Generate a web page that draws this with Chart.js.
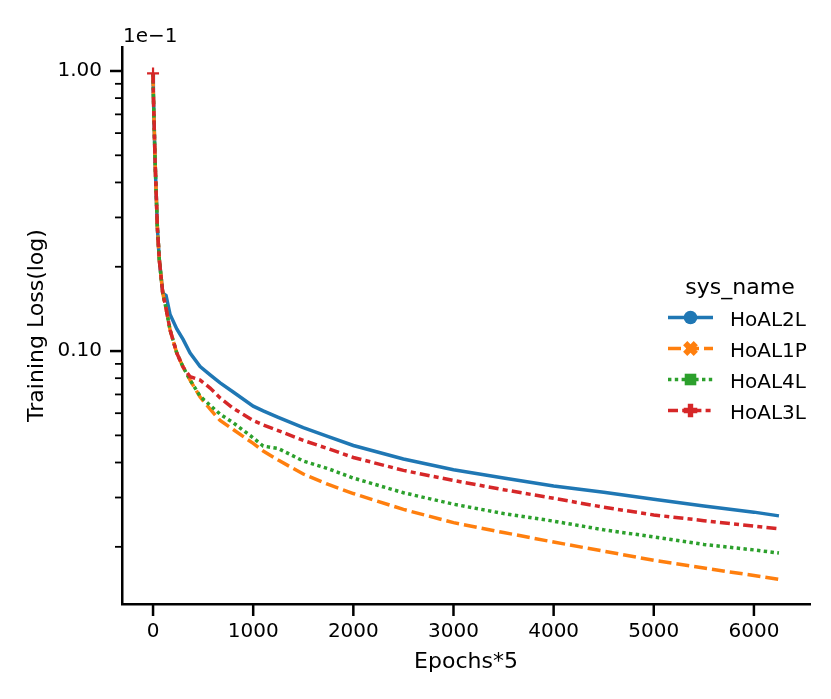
<!DOCTYPE html>
<html>
<head>
<meta charset="UTF-8">
<title>Training Loss(log)</title>
<script src="https://cdn.jsdelivr.net/npm/chart.js@4.4.1/dist/chart.umd.min.js"></script>
<style>
  html, body { margin: 0; padding: 0; background: #fff; }
  #wrap { width: 831px; height: 699px; }
</style>
</head>
<body>
<div id="wrap"><canvas id="lossChart" width="831" height="699"></canvas></div>
<script>
// values (y axis shown in units of 1e-1)
var epochs = [0, 3, 20, 43, 63, 97, 130, 170, 237, 300, 370, 470, 570, 670, 800,
              1000, 1100, 1250, 1500, 1750, 2000, 2500, 3000, 3500, 4000, 4500,
              5000, 5500, 6000, 6250];

var hoal2l = [0.98, 0.835, 0.481, 0.277, 0.211, 0.161, 0.158, 0.135, 0.120, 0.110, 0.0984, 0.0880, 0.0822, 0.0770, 0.0714,
              0.0636, 0.0612, 0.0580, 0.0533, 0.0495, 0.0460, 0.0412, 0.0377, 0.0352, 0.0330, 0.0313,
              0.0296, 0.0280, 0.0266, 0.0258];
var hoal1p = [0.98, 0.835, 0.481, 0.277, 0.211, 0.161, 0.142, 0.119, 0.0984, 0.0877, 0.0788, 0.0685, 0.0620, 0.0565, 0.0525,
              0.0468, 0.0440, 0.0408, 0.0364, 0.0334, 0.0310, 0.0272, 0.0244, 0.0225, 0.0208, 0.0193,
              0.0179, 0.0168, 0.0158, 0.0153];
var hoal4l = [0.98, 0.835, 0.481, 0.277, 0.211, 0.161, 0.142, 0.119, 0.0984, 0.0877, 0.0788, 0.0690, 0.0640, 0.0595, 0.0555,
              0.0490, 0.0458, 0.0449, 0.0405, 0.0380, 0.0352, 0.0312, 0.0284, 0.0263, 0.0247, 0.0230,
              0.0217, 0.0204, 0.0195, 0.0190];
var hoal3l = [0.98, 0.835, 0.481, 0.277, 0.211, 0.161, 0.142, 0.119, 0.0984, 0.0877, 0.0810, 0.0788, 0.0738, 0.0680, 0.0625,
              0.0565, 0.0545, 0.0520, 0.0480, 0.0448, 0.0417, 0.0375, 0.0345, 0.0320, 0.0298, 0.0277,
              0.0260, 0.0248, 0.0237, 0.0232];

var xTicks = [0, 1000, 2000, 3000, 4000, 5000, 6000];
var yMajor = [0.1, 1];
var yMinor = [0.02, 0.03, 0.04, 0.05, 0.06, 0.07, 0.08, 0.09,
              0.2, 0.3, 0.4, 0.5, 0.6, 0.7, 0.8, 0.9];

var FONT = 'DejaVu Sans';
var LW = 3.5;

function pts(ys) {
    return epochs.map(function(x, i) { return { x: x, y: ys[i] }; });
}

function firstOnly(r) {
    return epochs.map(function(x, i) { return i === 0 ? r : 0; });
}

var series = [
    { label: 'HoAL2L', data: hoal2l, color: '#1f77b4', dash: [], marker: 'circle', order: 4 },
    { label: 'HoAL1P', data: hoal1p, color: '#ff7f0e', dash: [13, 5], marker: 'x', order: 3 },
    { label: 'HoAL4L', data: hoal4l, color: '#2ca02c', dash: [3.4, 3.4], marker: 'square', order: 2 },
    { label: 'HoAL3L', data: hoal3l, color: '#d62728', dash: [10, 4.2, 5, 4.2], marker: 'plus', order: 1 }
];

// draws the legend marker shapes (filled, like matplotlib o, X, s, P)
function drawMarker(ctx, kind, x, y, color) {
    ctx.save();
    ctx.fillStyle = color;
    ctx.setLineDash([]);
    ctx.beginPath();
    if (kind === 'circle') {
        ctx.arc(x, y, 6.8, 0, Math.PI * 2);
    } else if (kind === 'square') {
        ctx.rect(x - 5.8, y - 5.8, 11.6, 11.6);
    } else {
        var k = kind === 'x' ? 1.1 : 1;
        var a = 6.8 * k, b = 2.7 * k;
        var shape = [[-b, -a], [b, -a], [b, -b], [a, -b], [a, b], [b, b], [b, a], [-b, a], [-b, b], [-a, b], [-a, -b], [-b, -b]];
        var rot = kind === 'x' ? Math.PI / 4 : 0;
        shape.forEach(function(p, i) {
            var rx = p[0] * Math.cos(rot) - p[1] * Math.sin(rot);
            var ry = p[0] * Math.sin(rot) + p[1] * Math.cos(rot);
            if (i === 0) ctx.moveTo(x + rx, y + ry); else ctx.lineTo(x + rx, y + ry);
        });
        ctx.closePath();
    }
    ctx.fill();
    ctx.restore();
}

var decorPlugin = {
    id: 'decor',
    afterDraw: function(chart) {
        var ctx = chart.ctx;
        var xs = chart.scales.x, ys = chart.scales.y;
        var area = chart.chartArea;
        ctx.save();
        ctx.strokeStyle = '#000';
        ctx.setLineDash([]);

        // y ticks: long for decades, short for the rest
        ctx.lineWidth = 2.5;
        yMajor.forEach(function(v) {
            var p = ys.getPixelForValue(v);
            ctx.beginPath(); ctx.moveTo(area.left - 12, p); ctx.lineTo(area.left, p); ctx.stroke();
        });
        ctx.lineWidth = 1.8;
        yMinor.forEach(function(v) {
            var p = ys.getPixelForValue(v);
            ctx.beginPath(); ctx.moveTo(area.left - 7, p); ctx.lineTo(area.left, p); ctx.stroke();
        });
        // x ticks
        ctx.lineWidth = 2.5;
        xTicks.forEach(function(v) {
            var p = xs.getPixelForValue(v);
            ctx.beginPath(); ctx.moveTo(p, area.bottom); ctx.lineTo(p, area.bottom + 12); ctx.stroke();
        });

        // offset text of the y axis
        ctx.fillStyle = '#000';
        ctx.font = '20px "' + FONT + '"';
        ctx.textAlign = 'left';
        ctx.textBaseline = 'alphabetic';
        ctx.fillText('1e\u22121', area.left + 1, 42);

        // legend
        ctx.font = '22px "' + FONT + '"';
        ctx.textAlign = 'center';
        ctx.fillText('sys_name', 740, 294);
        ctx.font = '20px "' + FONT + '"';
        ctx.textAlign = 'left';
        series.forEach(function(s, i) {
            var y = 317.5 + i * 31;
            ctx.strokeStyle = s.color;
            ctx.lineWidth = LW;
            ctx.setLineDash(s.dash);
            ctx.beginPath(); ctx.moveTo(668, y); ctx.lineTo(713, y); ctx.stroke();
            drawMarker(ctx, s.marker, 690.5, y, s.color);
            ctx.fillStyle = '#000';
            ctx.fillText(s.label, 730, y + 8);
        });
        ctx.restore();
    }
};

new Chart('lossChart', {
    type: 'line',
    data: {
        datasets: series.map(function(s) {
            return {
                label: s.label,
                data: pts(s.data),
                borderColor: s.color,
                backgroundColor: s.color,
                borderWidth: LW,
                borderDash: s.dash,
                borderCapStyle: 'butt',
                tension: 0,
                fill: false,
                order: s.order,
                pointStyle: 'cross',
                pointRadius: s.marker === 'plus' ? firstOnly(6) : 0,
                pointBorderWidth: 2.2,
                pointBorderColor: s.color,
                pointHoverRadius: 0
            };
        })
    },
    options: {
        responsive: false,
        animation: false,
        layout: { padding: { top: 47, right: 21, left: 0, bottom: 0 } },
        plugins: { legend: { display: false }, tooltip: { enabled: false } },
        scales: {
            x: {
                type: 'linear',
                min: -310,
                max: 6560,
                afterBuildTicks: function(scale) {
                    scale.ticks = xTicks.map(function(v) { return { value: v }; });
                },
                afterFit: function(scale) { scale.height = 95; },
                grid: { display: false, drawTicks: false },
                border: { display: true, color: '#000', width: 2.5 },
                ticks: {
                    autoSkip: false, maxRotation: 0, padding: 16, color: '#000',
                    font: { family: FONT, size: 20 },
                    callback: function(v) { return String(v); }
                },
                title: {
                    display: true, text: 'Epochs*5', color: '#000',
                    font: { family: FONT, size: 22 },
                    padding: { top: 0, bottom: 24 }
                }
            },
            y: {
                type: 'logarithmic',
                min: 0.0125,
                max: 1.218,
                afterBuildTicks: function(scale) {
                    scale.ticks = yMinor.concat(yMajor).sort(function(a, b) { return a - b; })
                        .map(function(v) { return { value: v }; });
                },
                afterFit: function(scale) { scale.width = 122; },
                grid: { display: false, drawTicks: false },
                border: { display: true, color: '#000', width: 2.5 },
                ticks: {
                    autoSkip: false, padding: 20, color: '#000',
                    font: { family: FONT, size: 20 },
                    callback: function(v) {
                        if (Math.abs(v - 1) < 1e-9) return '1.00';
                        if (Math.abs(v - 0.1) < 1e-9) return '0.10';
                        return '';
                    }
                },
                title: {
                    display: true, text: 'Training Loss(log)', color: '#000',
                    font: { family: FONT, size: 22 },
                    padding: { top: 24, bottom: 0 }
                }
            }
        }
    },
    plugins: [decorPlugin]
});
</script>
</body>
</html>
